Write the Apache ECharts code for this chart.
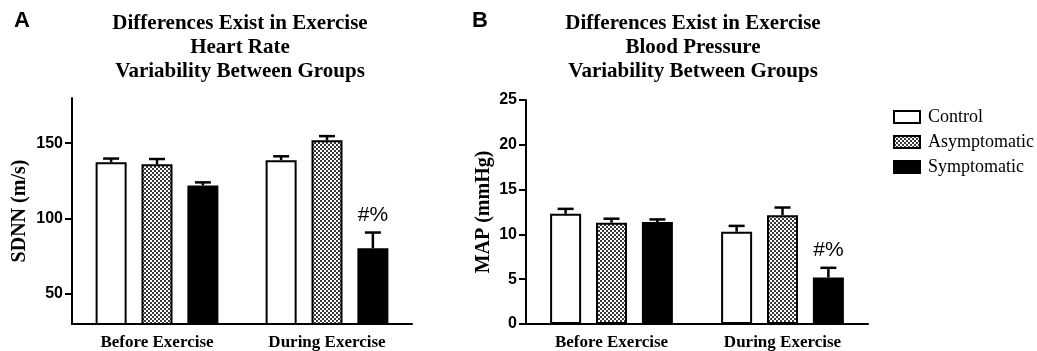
<!DOCTYPE html>
<html>
<head>
<meta charset="utf-8">
<script src="https://cdn.jsdelivr.net/npm/echarts@6/dist/echarts.min.js"></script>
<style>
html, body { margin: 0; padding: 0; background: #fff; }
#main { width: 1037px; height: 351px; }
</style>
</head>
<body>
<div id="main"></div>
<script>
var categories = ['Before Exercise', 'During Exercise'];
var groups = ['Control', 'Asymptomatic', 'Symptomatic'];

// A: SDNN (m/s)
var hrControl = [137.3, 138.7];
var hrControlErr = [2.5, 2.6];
var hrAsym = [136, 152];
var hrAsymErr = [3.5, 2.7];
var hrSymp = [122, 80.2];
var hrSympErr = [2, 10.5];
var hrMarks = ['', '#%'];
var hrTicks = [50, 100, 150];

// B: MAP (mmHg)
var bpControl = [12.3, 10.3];
var bpControlErr = [0.55, 0.65];
var bpAsym = [11.3, 12.15];
var bpAsymErr = [0.45, 0.85];
var bpSymp = [11.37, 5.2];
var bpSympErr = [0.3, 1.07];
var bpMarks = ['', '#%'];

var SERIF = 'Liberation Serif';
var SANS = 'Liberation Sans';
var BAR_W = 31;
var GAP = 0.48;
var CAP = 8;

// checker fill for the asymptomatic bars
var cv = document.createElement('canvas');
cv.width = 4; cv.height = 4;
var cx = cv.getContext('2d');
cx.fillStyle = '#fff'; cx.fillRect(0, 0, 4, 4);
cx.fillStyle = '#3a3a3a'; cx.fillRect(0, 0, 2, 2); cx.fillRect(2, 2, 2, 2);
var checker = { image: cv, repeat: 'repeat' };

var fills = ['#fff', checker, '#000'];

function barSeries(gi, idx, values) {
	return {
		name: groups[idx],
		type: 'bar',
		xAxisIndex: gi,
		yAxisIndex: gi,
		barWidth: BAR_W,
		barGap: (GAP * 100) + '%',
		z: 3,
		itemStyle: { color: fills[idx], borderColor: '#000', borderWidth: 2 },
		data: values
	};
}

function errSeries(gi, idx, means, errs, marks) {
	return {
		name: groups[idx] + ' err',
		type: 'custom',
		xAxisIndex: gi,
		yAxisIndex: gi,
		z: 2,
		silent: true,
		data: means.map(function(m, i) { return [i, m, m + errs[i]]; }),
		renderItem: function(params, api) {
			var base = api.coord([api.value(0), api.value(1)]);
			var top = api.coord([api.value(0), api.value(2)]);
			var x = base[0] + (idx - 1) * BAR_W * (1 + GAP);
			var kids = [
				{ type: 'line', shape: { x1: x, y1: base[1], x2: x, y2: top[1] }, style: { stroke: '#000', lineWidth: 2.5 } },
				{ type: 'line', shape: { x1: x - CAP, y1: top[1], x2: x + CAP, y2: top[1] }, style: { stroke: '#000', lineWidth: 2.5 } }
			];
			var mk = marks && marks[params.dataIndex];
			if (mk) {
				kids.push({ type: 'text', x: x, y: top[1] - 7,
					style: { text: mk, textAlign: 'center', textVerticalAlign: 'bottom', font: '21px ' + SANS, fill: '#000' } });
			}
			return { type: 'group', children: kids };
		}
	};
}

function xAxisOpt(gi) {
	return {
		type: 'category',
		gridIndex: gi,
		data: categories,
		axisLine: { lineStyle: { color: '#000', width: 2 } },
		axisTick: { alignWithLabel: true, length: 6, lineStyle: { color: '#000', width: 2 } },
		axisLabel: { color: '#000', fontFamily: SERIF, fontWeight: 'bold', fontSize: 17, margin: 10 }
	};
}

function yAxisOpt(gi, name, extra) {
	var o = {
		type: 'value',
		gridIndex: gi,
		name: name,
		nameLocation: 'middle',
		nameTextStyle: { color: '#000', fontFamily: SERIF, fontWeight: 'bold', fontSize: 20 },
		axisLine: { show: true, lineStyle: { color: '#000', width: 2 } },
		axisTick: { show: true, length: 7, lineStyle: { color: '#000', width: 2 } },
		axisLabel: { color: '#000', fontFamily: SANS, fontWeight: 'bold', fontSize: 16, margin: 9 },
		splitLine: { show: false }
	};
	for (var k in extra) {
		if (typeof extra[k] === 'object' && o[k]) Object.assign(o[k], extra[k]);
		else o[k] = extra[k];
	}
	return o;
}

var titleFont = 'bold 21px ' + SERIF;

var option = {
	backgroundColor: '#fff',
	animation: false,
	grid: [
		{ left: 72, width: 340, top: 98, bottom: 26 },
		{ left: 526, width: 342, top: 100, bottom: 26 }
	],
	xAxis: [xAxisOpt(0), xAxisOpt(1)],
	yAxis: [
		yAxisOpt(0, 'SDNN (m/s)', {
			min: 30, max: 180, nameGap: 42,
			axisTick: { customValues: hrTicks },
			axisLabel: { customValues: hrTicks }
		}),
		yAxisOpt(1, 'MAP (mmHg)', { min: 0, max: 25, interval: 5, nameGap: 32 })
	],
	legend: {
		data: groups,
		orient: 'vertical',
		left: 888,
		top: 103,
		icon: 'rect',
		itemWidth: 26,
		itemHeight: 12,
		itemGap: 7,
		textStyle: { color: '#000', fontFamily: SERIF, fontSize: 18, lineHeight: 18, padding: [0, 0, 0, 3] }
	},
	graphic: [
		{ type: 'text', x: 14, y: 10, style: { text: 'A', font: 'bold 22px ' + SANS, fill: '#000' } },
		{ type: 'text', x: 472, y: 10, style: { text: 'B', font: 'bold 22px ' + SANS, fill: '#000' } },
		{ type: 'text', x: 240, y: 12, style: { text: 'Differences Exist in Exercise\nHeart Rate\nVariability Between Groups',
			font: titleFont, lineHeight: 24, textAlign: 'center', fill: '#000' } },
		{ type: 'text', x: 693, y: 12, style: { text: 'Differences Exist in Exercise\nBlood Pressure\nVariability Between Groups',
			font: titleFont, lineHeight: 24, textAlign: 'center', fill: '#000' } }
	],
	series: [
		barSeries(0, 0, hrControl), barSeries(0, 1, hrAsym), barSeries(0, 2, hrSymp),
		errSeries(0, 0, hrControl, hrControlErr), errSeries(0, 1, hrAsym, hrAsymErr), errSeries(0, 2, hrSymp, hrSympErr, hrMarks),
		barSeries(1, 0, bpControl), barSeries(1, 1, bpAsym), barSeries(1, 2, bpSymp),
		errSeries(1, 0, bpControl, bpControlErr), errSeries(1, 1, bpAsym, bpAsymErr), errSeries(1, 2, bpSymp, bpSympErr, bpMarks)
	]
};

var chart = echarts.init(document.getElementById('main'));
chart.setOption(option);
</script>
</body>
</html>
